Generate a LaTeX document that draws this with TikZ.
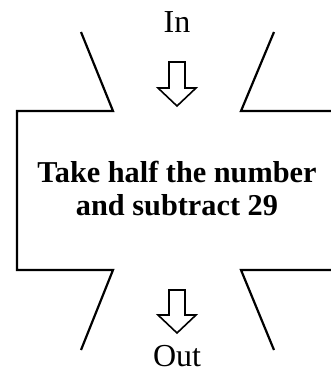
\documentclass[tikz,border=0pt]{standalone}
\usepackage{fontspec}
\setmainfont{Liberation Serif}
\begin{document}
\begin{tikzpicture}[x=1pt,y=-1pt,
  frame/.style={line width=2.2pt,line join=miter},
  hollow/.style={line width=1.6pt,line join=miter},
  label/.style={font=\fontsize{32}{34}\selectfont,inner sep=0pt,anchor=base},
  body/.style={font=\fontsize{30.3}{33}\selectfont\bfseries,inner sep=0pt,align=center}]
\useasboundingbox (0,0) rectangle (330,375);
% frame
\draw[frame] (81,32) -- (113,111) -- (17,111) -- (17,270) -- (113,270) -- (81,350);
\draw[frame] (274,32) -- (241,111) -- (332,111);
\draw[frame] (332,270) -- (241,270) -- (274,350);
% arrows
\draw[hollow] (169,62) -- (185,62) -- (185,88) -- (196,88) -- (177,106) -- (158,88) -- (169,88) -- cycle;
\draw[hollow] (169,290) -- (185,290) -- (185,315) -- (196,315) -- (177,333) -- (158,315) -- (169,315) -- cycle;
% texts
\node[label] (in) at (177,32) {In};
\node[label] (out) at (177,366) {Out};
\node[body] (rule) at (177,189) {Take half the number\\and subtract 29};
\end{tikzpicture}
\end{document}
